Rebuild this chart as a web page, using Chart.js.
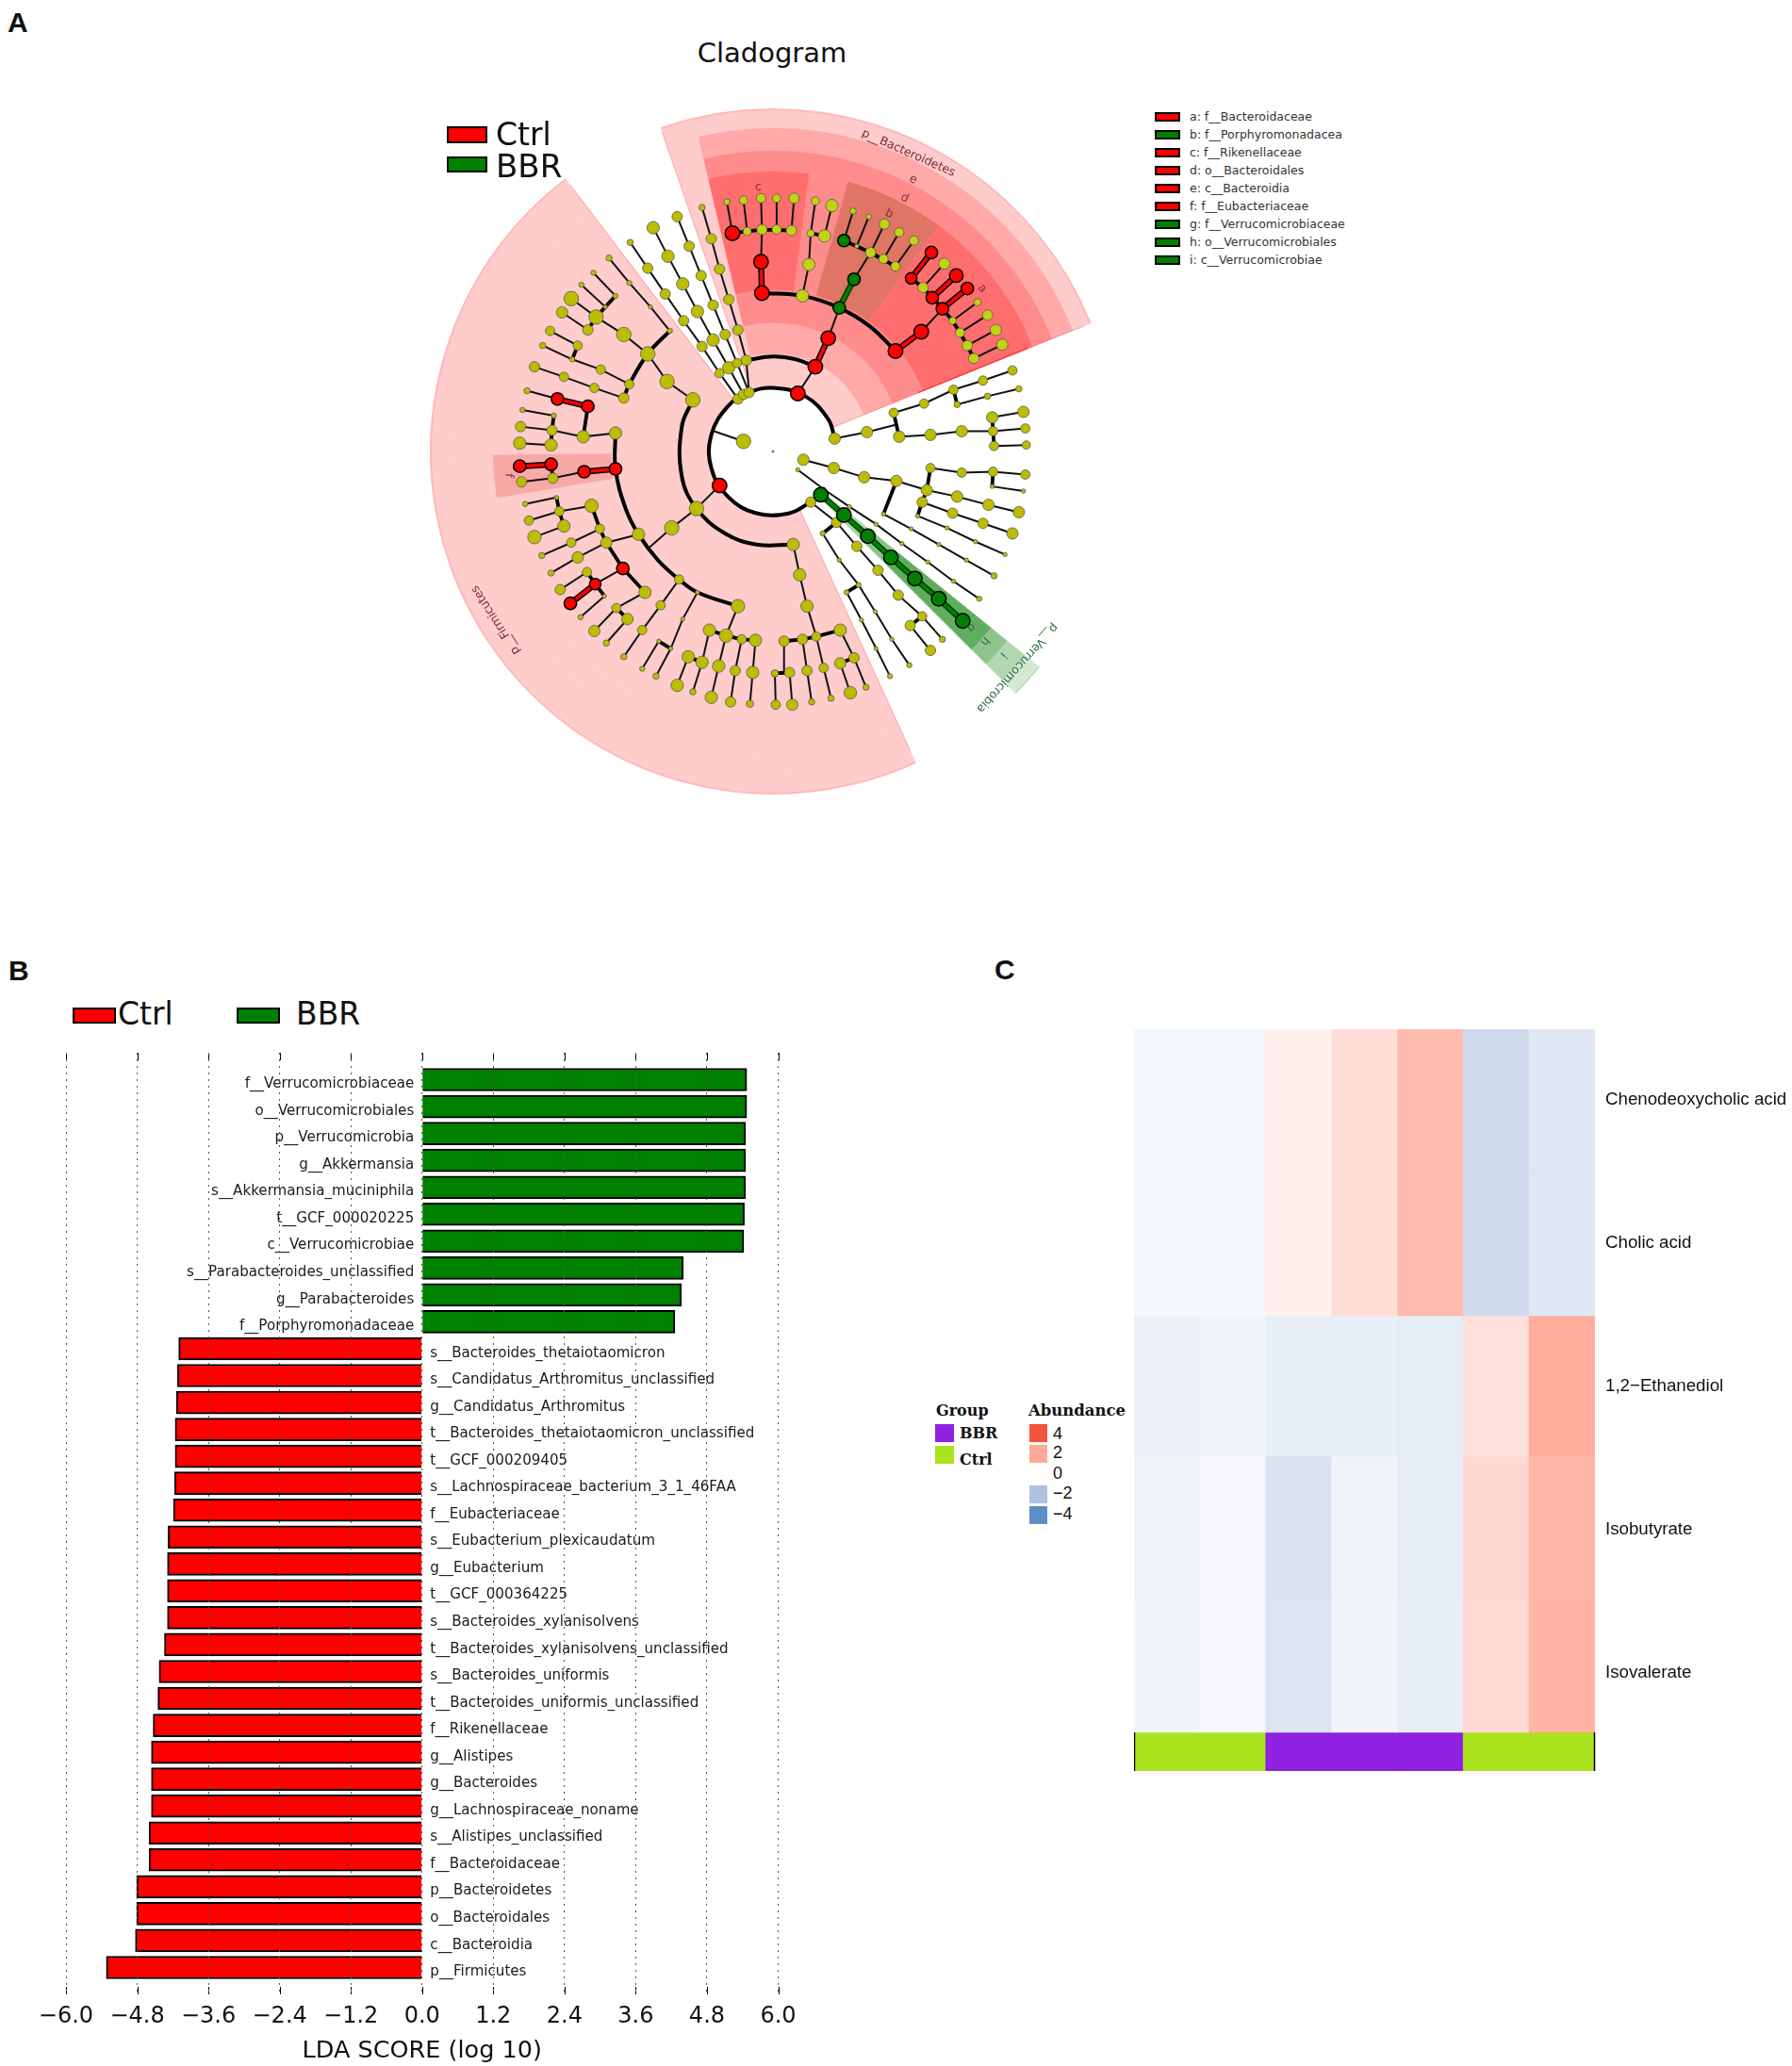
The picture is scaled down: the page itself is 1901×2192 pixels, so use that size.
<!DOCTYPE html>
<html>
<head>
<meta charset="utf-8">
<title>Cladogram, LDA score and heatmap</title>
<script src="https://cdn.jsdelivr.net/npm/chart.js@4"></script>
<style>
    html, body { margin: 0; padding: 0; background: #fff; }
    #page { position: relative; width: 1901px; height: 2192px; overflow: hidden; }
    canvas { position: absolute; }
    .txt { position: absolute; line-height: 1; white-space: nowrap; transform: translateY(-50%); color: #111; }
    .box { position: absolute; box-sizing: border-box; }
</style>
</head>
<body>
<div id="page">
    <canvas id="wedges" width="728" height="728" style="left:456px;top:115px"></canvas>
    <canvas id="tree" width="800" height="800" style="left:420px;top:79px"></canvas>
    <canvas id="bars" width="900" height="1092" style="left:0;top:1100px"></canvas>
    <canvas id="heat" width="698" height="787" style="left:1203px;top:1092px"></canvas>
</div>
<script>
// ---- panel B values ----
const barCategories = ['f__Verrucomicrobiaceae', 'o__Verrucomicrobiales', 'p__Verrucomicrobia', 'g__Akkermansia', 's__Akkermansia_muciniphila', 't__GCF_000020225', 'c__Verrucomicrobiae', 's__Parabacteroides_unclassified', 'g__Parabacteroides', 'f__Porphyromonadaceae',
    's__Bacteroides_thetaiotaomicron', 's__Candidatus_Arthromitus_unclassified', 'g__Candidatus_Arthromitus', 't__Bacteroides_thetaiotaomicron_unclassified', 't__GCF_000209405', 's__Lachnospiraceae_bacterium_3_1_46FAA', 'f__Eubacteriaceae', 's__Eubacterium_plexicaudatum', 'g__Eubacterium', 't__GCF_000364225', 's__Bacteroides_xylanisolvens', 't__Bacteroides_xylanisolvens_unclassified', 's__Bacteroides_uniformis', 't__Bacteroides_uniformis_unclassified', 'f__Rikenellaceae', 'g__Alistipes', 'g__Bacteroides', 'g__Lachnospiraceae_noname', 's__Alistipes_unclassified', 'f__Bacteroidaceae', 'p__Bacteroidetes', 'o__Bacteroidales', 'c__Bacteroidia', 'p__Firmicutes'];
const bbrScores = [5.47, 5.47, 5.45, 5.45, 5.45, 5.43, 5.42, 4.40, 4.37, 4.26];
const ctrlScores = [-4.10, -4.12, -4.14, -4.16, -4.16, -4.17, -4.19, -4.28, -4.29, -4.29, -4.29, -4.34, -4.43, -4.45, -4.53, -4.56, -4.56, -4.56, -4.60, -4.60, -4.81, -4.81, -4.83, -5.32];

// ---- panel C values ----
const heatRows = ['Chenodeoxycholic acid', 'Cholic acid', '1,2\u2212Ethanediol', 'Isobutyrate', 'Isovalerate'];
const chenoValues = [-0.25, -0.25, 0.33, 0.78, 1.6, -1.2, -0.8];
const cholicValues = [-0.25, -0.25, 0.33, 0.78, 1.6, -1.2, -0.8];
const ethanediolValues = [-0.5, -0.32, -0.55, -0.55, -0.6, 0.7, 1.9];
const isobutyrateValues = [-0.35, -0.22, -0.95, -0.37, -0.6, 0.95, 1.75];
const isovalerateValues = [-0.32, -0.22, -0.9, -0.35, -0.58, 0.9, 1.8];
const sampleGroups = ['Ctrl', 'Ctrl', 'BBR', 'BBR', 'BBR', 'Ctrl', 'Ctrl'];
const abundanceTicks = [-4, -2, 0, 2, 4];

// ---- panel A values: wedge spans in degrees clockwise from the top, ring by ring ----
const outerSpans = [68, 61, 5.9, 20.5, 167.3, 18.2, 19.1];
const midSpans = [68, 61, 5.9, 20.5, 167.3, 18.2, 5.8, 13.3];
const familySpans = [7.5, 8.1, 20.7, 31.7, 61, 5.9, 20.5, 105.1, 8.9, 53.3, 18.2, 5.8, 13.3];

// clade positions around the centre, [x, y] or [x, y, size]
const redNodes = [[-44,-237,7],[-13,-206,7],[-12,-172,7],[46,-92,7],[60,-123,7],[27,-63,7],[133,-109,7],[161,-130,7],[184,-155,6],[173,-167,6],[150,-188,5.5],[172,-216,6],[199,-191,6.5],[211,-177,6],[-58,37,7],[-201,-49,6],[-234,-57,6],[-171,19,6],[-205,22,6],[-241,14,6],[-275,16,6],[-163,127,6],[-193,144,5.5],[-220,165,6]];
const greenNodes = [[72,-156,6],[88,-187,6],[77,-229,6],[52,47,7],[77,69,7],[103,92,7],[128,115,7],[154,138,7],[180,160,7],[206,184,7]];
const limeNodes = [[-28,-239,4],[-12,-241,5],[4,-241,4.5],[20,-240,5],[-50,-271,3],[-32,-273,4],[-13,-275,4.5],[4,-275,4],[23,-275,5],[32,-169,6],[39,-203,6],[41,-237,3.5],[56,-234,6],[46,-272,4],[64,-267,6],[106,-216,5],[91,-223,2],[120,-209,4.5],[133,-201,4.5],[87,-261,3],[104,-255,2.5],[121,-247,5],[137,-238,4.5],[153,-229,4.5],[163,-178,5],[186,-204,5.5],[195,-142,3.5],[203,-129,4.5],[211,-115,5],[218,-101,5],[222,-162,3.5],[233,-148,5],[242,-132,5.5],[249,-116,5.5]];
const yellowNodes = [[-38,-57,5],[-32,-62,5],[-26,-64,5],[-58,-85,4.5],[-48,-91,6],[-39,-96,4.5],[-29,-99,5],
    [-77,-114,5],[-97,-142,5],[-117,-171,5],[-136,-199,5],[-155,-227,3],[-65,-121,6],[-82,-152,6],[-98,-182,6],[-114,-212,6],[-130,-243,6],[-52,-127,5],[-65,-159,5],[-78,-191,5],[-91,-223,5],[-104,-255,5],[-38,-132,5],[-48,-165,5],[-58,-198,5],[-67,-231,5],[-77,-265,3],
    [-32,-11,7],[-83,62,7],[-87,-56,7],[-115,-76,7],[-136,-106,7],[-156,-73,4.5],[-162,-58,5],[-112,-131,2.5],[-133,-157,2],[-156,-183,2.5],[-178,-210,3],[-162,-127,7],[-192,-146,7],[-171,-169,2.5],[-182,-157,2],[-195,-194,2.5],[-208,-181,2.5],[-219,-166,7],[-201,-132,5],[-229,-151,5.5],[-187,-89,4.5],[-218,-100,2.5],[-212,-115,4.5],[-242,-131,4.5],[-250,-115,3],[-194,-69,4.5],[-227,-81,4.5],[-259,-92,5],
    [-171,-20,6],[-206,-16,6],[-267,-66,3],[-240,-23,5],[-238,-39,2.5],[-272,-45,2.5],[-274,-27,5],[-241,-7,6],[-275,-9,6],[-239,29,5],[-273,33,5],
    [-146,90,6],[-110,83,7],[-181,99,5.5],[-197,59,6.5],[-188,84,4.5],[-139,153,6],[-232,65,4.5],[-235,50,2],[-227,81,6],[-269,57,2.5],[-265,75,4.5],[-259,93,6.5],[-219,99,4.5],[-251,113,3],[-212,115,5.5],[-241,132,3],[-202,131,4.5],[-231,150,5],[-183,157,2],[-209,180,2.5],[-170,170,4.5],[-194,195,5.5],[-158,182,5.5],[-181,208,3],
    [-102,139,4.5],[-122,167,4.5],[-142,194,4.5],[-162,223,3],[-82,153,2],[-98,182,2],[-111,214,2],[-124,206,2],[-142,236,2.5],[-127,244,3],
    [-38,168,6.5],[-51,200,6.5],[-69,194,6],[-34,204,4.5],[-19,205,6],[-92,223,6],[-77,229,6],[-104,254,6],[-87,261,3],[-59,233,6],[-67,267,6],[-41,238,5],[-46,272,5],[-22,240,6],[-25,274,3.5],
    [22,101,6],[29,134,6],[37,168,6],[47,201,4.5],[12,206,5],[32,204,5],[73,194,6],[2,241,3.5],[18,240,5],[3,275,4.5],[21,275,5.5],[37,238,5],[42,272,3],[55,235,4.5],[63,268,3],[88,224,5],[73,230,5.5],[84,262,6],[101,256,3],
    [67,-14,5.5],[102,-21,5.5],[137,-16,5.5],[131,-42,4.5],[164,-52,4.5],[196,-67,4.5],[228,-77,4.5],[260,-88,4.5],[200,-51,3],[233,-60,3],[267,-68,3],[171,-18,5.5],[205,-22,5.5],[239,-22,4.5],[238,-37,5.5],[240,-6,4.5],[272,-43,5.5],[274,-25,4.5],[275,-7,4],
    [33,9,5.5],[66,18,5.5],[99,28,5.5],[134,32,5.5],[167,42,5.5],[171,18,4.5],[205,23,4.5],[239,22,4.5],[238,38,2],[274,25,4.5],[272,43,2],[200,49,5.5],[234,58,5.5],[267,66,5.5],[162,55,5],[195,67,5],[228,78,5],[260,89,5.5],[157,70,2],[189,83,2],[220,98,2],[252,112,2],[120,68,2],[150,84,2],[180,101,2],[210,118,2],[240,135,3],
    [27,20,2],[55,41,2],[83,60,2],[112,79,2],[140,100,2],[168,120,2],[196,141,2],[224,160,2.5],
    [41,55,5],[69,77,5],[91,103,5],[114,129,5],[136,156,5],[162,179,4.5],[149,189,5],[184,204,3],[171,216,5],[54,89,2.5],[72,118,2],[93,145,2.5],[80,153,2.5],[111,174,2],[129,204,2],[148,232,2.5],[96,183,2],[112,214,2],[127,244,2.5],
    [0,0,1]];

const thinBranches = [
    [[-13,-206],[-12,-241]],[[-44,-237],[-50,-271]],[[-28,-239],[-32,-273]],[[-12,-241],[-13,-275]],[[4,-241],[4,-275]],[[20,-240],[23,-275]],
    [[32,-169],[39,-203],[41,-237],[46,-272]],[[56,-234],[64,-267]],
    [[88,-187],[106,-216]],[[77,-229],[87,-261]],[[91,-223],[104,-255]],[[106,-216],[121,-247]],[[120,-209],[137,-238]],[[133,-201],[153,-229]],
    [[72,-156],[60,-123]],[[27,-63],[46,-92]],[[161,-130],[184,-155]],
    [[163,-178],[186,-204]],[[195,-142],[222,-162]],[[203,-129],[233,-148]],[[211,-115],[242,-132]],[[218,-101],[249,-116]],
    [[-38,-57],[-58,-85],[-77,-114],[-97,-142],[-117,-171],[-136,-199],[-155,-227]],
    [[-32,-62],[-48,-91],[-65,-121],[-82,-152],[-98,-182],[-114,-212],[-130,-243]],
    [[-26,-64],[-39,-96],[-52,-127],[-65,-159],[-78,-191],[-91,-223],[-104,-255]],
    [[-26,-64],[-29,-99],[-38,-132],[-48,-165],[-58,-198],[-67,-231],[-77,-265]],
    [[-64,-22],[-32,-11]],[[-58,37],[-83,62],[-110,83],[-135,105]],
    [[-87,-56],[-115,-76],[-136,-106],[-162,-127],[-192,-146],[-219,-166]],
    [[-112,-131],[-133,-157],[-156,-183],[-178,-210]],[[-171,-169],[-195,-194]],[[-182,-157],[-208,-181]],[[-201,-132],[-229,-151]],
    [[-156,-73],[-187,-89],[-218,-100],[-250,-115]],[[-212,-115],[-242,-131]],[[-162,-58],[-194,-69],[-227,-81],[-259,-92]],
    [[-171,-20],[-206,-16],[-240,-23],[-274,-27]],[[-234,-57],[-267,-66]],[[-238,-39],[-272,-45]],[[-241,-7],[-275,-9]],[[-205,22],[-239,29],[-273,33]],
    [[-146,90],[-181,99],[-212,115],[-241,132]],[[-197,59],[-232,65],[-265,75]],[[-235,50],[-269,57]],[[-227,81],[-259,93]],[[-188,84],[-219,99],[-251,113]],
    [[-163,127],[-193,144]],[[-202,131],[-231,150]],[[-183,157],[-209,180]],[[-139,153],[-170,170],[-194,195]],[[-158,182],[-181,208]],
    [[-102,139],[-122,167],[-142,194],[-162,223]],[[-82,153],[-98,182],[-111,214],[-127,244]],[[-124,206],[-142,236]],
    [[-38,168],[-51,200],[-59,233],[-67,267]],[[-69,194],[-77,229],[-87,261]],[[-92,223],[-104,254]],[[-34,204],[-41,238],[-46,272]],[[-19,205],[-22,240],[-25,274]],
    [[22,101],[29,134],[37,168],[47,201]],[[12,206],[12,240]],[[2,241],[3,275]],[[18,240],[21,275]],[[32,204],[37,238],[42,272]],[[47,201],[55,235],[63,268]],[[73,194],[88,224],[101,256]],[[73,230],[84,262]],
    [[67,-14],[102,-21],[133,-29]],[[137,-16],[171,-18],[205,-22],[239,-22]],[[131,-42],[164,-52],[196,-67],[228,-77],[260,-88]],[[200,-51],[233,-60],[267,-68]],[[238,-37],[272,-43]],[[239,-22],[274,-25]],[[240,-6],[275,-7]],
    [[33,9],[66,18],[99,28],[134,32],[167,42],[200,49],[234,58],[267,66]],[[171,18],[205,23],[239,22],[274,25]],[[238,38],[272,43]],
    [[162,55],[195,67],[228,78],[260,89]],[[157,70],[189,83],[220,98],[252,112]],[[120,68],[150,84],[180,101],[210,118],[240,135]],
    [[27,20],[55,41],[83,60],[112,79],[140,100],[168,120],[196,141],[224,160]],
    [[41,55],[69,77],[91,103],[114,129],[136,156],[162,179],[184,204]],[[149,189],[171,216]],
    [[54,89],[72,118],[93,145],[111,174],[129,204],[148,232]],[[80,153],[96,183],[112,214],[127,244]]
];
const thickBranches = [
    [[-44,-237],[-12,-241],[20,-240]],[[41,-237],[56,-234]],[[77,-229],[106,-216],[133,-201]],
    [[218,-101],[211,-115],[203,-129],[195,-142],[184,-155],[173,-167],[163,-178],[150,-188]],
    [[-192,-146],[-171,-169]],[[-192,-146],[-201,-132]],[[-218,-100],[-212,-115]],[[-206,-16],[-201,-49]],[[-238,-39],[-240,-23],[-241,-7]],[[-239,29],[-241,14]],
    [[-197,59],[-188,84],[-181,99],[-163,127],[-139,153]],[[-235,50],[-232,65],[-227,81]],[[-202,131],[-193,144],[-183,157]],[[-170,170],[-158,182]],[[-111,214],[-124,206]],
    [[-69,194],[-51,200],[-34,204],[-19,205]],[[12,206],[32,204],[47,201],[73,194]],[[2,241],[18,240]],[[-92,223],[-77,229]],[[73,230],[88,224]],
    [[131,-42],[137,-16]],[[196,-67],[200,-51]],[[238,-37],[239,-22],[240,-6]],
    [[171,18],[167,42],[162,55],[157,70]],[[239,22],[238,38]],[[134,32],[120,68]],[[162,179],[149,189]],[[69,77],[54,89]],[[93,145],[80,153]]
];
const ringArcs = [
    [[41,55],[18,67],[-18,67],[-49,49],[-67,18],[-67,-18],[-49,-49],[-26,-64],[0,-69],[35,-60],[60,-35],[67,-14]],
    [[-87,-56],[-99,-27],[-99,27],[-83,62],[-52,89],[-18,101],[22,101]],
    [[-29,-99],[0,-103],[25,-100],[46,-92]],
    [[-171,-20],[-171,19],[-160,62],[-146,90],[-125,118],[-102,139],[-82,153],[-38,168]],
    [[-12,-172],[32,-169],[72,-156],[105,-136],[133,-109]],
    [[-162,-58],[-156,-73],[-136,-106],[-112,-131]]
];
const redBranches = [[[-12,-172],[-13,-206]],[[46,-92],[60,-123]],[[133,-109],[161,-130]],[[150,-188],[172,-216]],[[173,-167],[199,-191]],[[184,-155],[211,-177]],[[-201,-49],[-234,-57]],[[-171,19],[-205,22]],[[-241,14],[-275,16]],[[-193,144],[-220,165]]];
const greenBranches = [[[72,-156],[88,-187]],[[52,47],[77,69],[103,92],[128,115],[154,138],[180,160],[206,184]]];
// straight sides of the shaded wedges
const brightEdges = [[[158,-64],[276,-112]]];
const softEdges = [[[64,-26],[158,-64]],[[276,-112],[337,-136]],[[-220,-289],[-42,-55]],[[149,325],[29,63]],[[-120,-346],[-23,-65]]];

const cladeLabels = [
    ['p__Bacteroidetes', 147, -324, 24, '#7a2a35'], ['e', 152, -295, 25, '#8a3030'], ['d', 143, -275, 25, '#8a3030'], ['b', 126, -258, 25, '#8a3030'],
    ['c', -16, -287, 0, '#8a3030'], ['a', 227, -177, 45, '#8a3030'], ['f', -287, 26, 95, '#8a3030'], ['p__Firmicutes', -301, 183, -122.7, '#7a2a35'],
    ['p__Verrucomicrobia', 265, 235, 132, '#2f6b3f'], ['i', 250, 221, 132, '#2f6b3f'], ['h', 230, 206, 132, '#2f6b3f'], ['g', 215, 191, 132, '#2f6b3f']
];

// ---- shared setup ----
const page = document.getElementById('page');
Chart.defaults.font.family = '"DejaVu Sans"';

function addText(text, x, y, size, extra) {
    const el = document.createElement('div');
    el.className = 'txt';
    el.textContent = text;
    el.style.left = x + 'px';
    el.style.top = y + 'px';
    el.style.fontSize = size + 'px';
    Object.assign(el.style, extra || {});
    page.appendChild(el);
}
function addBox(x, y, w, h, colour, border) {
    const el = document.createElement('div');
    el.className = 'box';
    el.style.cssText = `left:${x}px;top:${y}px;width:${w}px;height:${h}px;background:${colour};` + (border ? 'border:2px solid #000;' : '');
    page.appendChild(el);
}
const baseOptions = {
    responsive: false,
    animation: false,
    devicePixelRatio: 1,
    events: [],
    plugins: { legend: { display: false }, tooltip: { enabled: false } }
};

// ---- panel A: wedges ----
const none = 'rgba(0,0,0,0)';
const pink = '#FFCCCC', rim = '#FFB6B6', classShade = '#FFA9A9', orderShade = '#FF8C8C', familyShade = '#FF6E6E', porphyro = '#DF7565', eubact = '#F9A8A8';
const ring = (weight, spans, colours) => ({ weight: weight, data: spans, backgroundColor: colours, borderColor: colours, borderWidth: 0.8 });
new Chart(document.getElementById('wedges'), {
    type: 'doughnut',
    data: {
        datasets: [
            ring(1.2, outerSpans, [rim, none, '#BBDDBB', none, rim, none, rim]),
            ring(18.8, outerSpans, [pink, none, '#D4E9D4', none, pink, none, pink]),
            ring(24, midSpans, [classShade, none, '#B2D8B2', none, pink, none, pink, classShade]),
            ring(22, midSpans, [orderShade, none, '#8CC48C', none, pink, none, pink, orderShade]),
            ring(126, familySpans, [familyShade, orderShade, porphyro, familyShade, none, '#5FAE5F', none, pink, eubact, pink, none, pink, familyShade]),
            ring(35, midSpans, [orderShade, none, '#88C488', none, pink, none, pink, orderShade]),
            ring(33, midSpans, [classShade, none, '#A8D4A8', none, pink, none, pink, classShade]),
            ring(35, outerSpans, [pink, none, '#C8E4C8', none, pink, none, pink])
        ]
    },
    options: { ...baseOptions, cutout: 69, layout: { padding: 0 } }
});

// ---- panel A: tree ----
const toPoints = nodes => nodes.map(n => ({ x: n[0], y: n[1] }));
const joinChains = chains => chains.flatMap(c => [...toPoints(c), { x: null, y: null }]);
const nodeSet = (nodes, fill, edge, width) => ({
    data: toPoints(nodes), pointRadius: nodes.map(n => n[2] * 1.1), pointBackgroundColor: fill,
    pointBorderColor: edge, pointBorderWidth: width, showLine: false
});
const lineSet = (chains, colour, width, tension) => ({
    data: joinChains(chains), borderColor: colour, borderWidth: width, pointRadius: 0,
    showLine: true, spanGaps: false, tension: tension || 0, borderCapStyle: 'round'
});
const cladeText = {
    id: 'cladeText',
    afterDatasetsDraw(chart) {
        const ctx = chart.ctx;
        cladeLabels.forEach(l => {
            ctx.save();
            ctx.translate(chart.scales.x.getPixelForValue(l[1]), chart.scales.y.getPixelForValue(l[2]));
            ctx.rotate(l[3] * Math.PI / 180);
            ctx.font = '12.5px "DejaVu Sans"';
            ctx.fillStyle = l[4];
            ctx.textAlign = 'center';
            ctx.textBaseline = 'middle';
            ctx.fillText(l[0], 0, 0);
            ctx.restore();
        });
    }
};
new Chart(document.getElementById('tree'), {
    type: 'scatter',
    data: {
        datasets: [
            nodeSet(redNodes, '#FF0000', '#000', 1.5),
            nodeSet(greenNodes, '#008000', '#000', 1.5),
            nodeSet(limeNodes, '#C3D211', '#555', 0.8),
            nodeSet(yellowNodes, '#BDBD00', '#555', 0.8),
            lineSet(redBranches, '#FF0000', 3.5),
            lineSet(greenBranches, '#008000', 3.5),
            lineSet(redBranches, '#000', 6.5),
            lineSet(greenBranches, '#004000', 6.5),
            lineSet(ringArcs, '#000', 4, 0.4),
            lineSet(thickBranches, '#000', 3.8),
            lineSet(thinBranches, '#111', 2),
            lineSet(brightEdges, 'rgba(255,30,30,0.75)', 1.4),
            lineSet(softEdges, 'rgba(255,110,110,0.4)', 1.2)
        ]
    },
    options: {
        ...baseOptions,
        layout: { padding: 0 },
        scales: {
            x: { display: false, min: -400, max: 400 },
            y: { display: false, min: -400, max: 400, reverse: true }
        }
    },
    plugins: [cladeText]
});

addText('Cladogram', 819, 56, 29, { transform: 'translate(-50%,-50%)', fontFamily: '"DejaVu Sans"' });
addBox(474, 134, 43, 18, '#FF0000', true);
addBox(474, 166, 43, 17, '#008000', true);
addText('Ctrl', 526, 142, 33, { fontFamily: '"DejaVu Sans"' });
addText('BBR', 526, 176, 34, { fontFamily: '"DejaVu Sans"' });

const cladeKey = [['a: f__Bacteroidaceae', '#FF0000'], ['b: f__Porphyromonadacea', '#008000'], ['c: f__Rikenellaceae', '#FF0000'], ['d: o__Bacteroidales', '#FF0000'], ['e: c__Bacteroidia', '#FF0000'], ['f: f__Eubacteriaceae', '#FF0000'], ['g: f__Verrucomicrobiaceae', '#008000'], ['h: o__Verrucomicrobiales', '#008000'], ['i: c__Verrucomicrobiae', '#008000']];
cladeKey.forEach((k, i) => {
    const y = 124 + i * 19;
    addBox(1225, y - 5, 27, 10, k[1], true);
    addText(k[0], 1262, y, 12.5, { fontFamily: '"DejaVu Sans"', color: '#333', width: '166px', overflow: 'hidden', lineHeight: '18px' });
});

// ---- panel B: LDA bars ----
const barLabels = ['', ...barCategories, ''];
const barValues = [null, ...bbrScores, ...ctrlScores, null];
const ldaMarks = {
    id: 'ldaMarks',
    afterDatasetsDraw(chart) {
        const ctx = chart.ctx, xs = chart.scales.x, ys = chart.scales.y, zero = xs.getPixelForValue(0);
        ctx.save();
        ctx.strokeStyle = '#000';
        ctx.lineWidth = 1;
        xs.ticks.forEach(t => {
            const px = Math.round(xs.getPixelForValue(t.value)) + 0.5;
            ctx.beginPath();
            ctx.moveTo(px, ys.top); ctx.lineTo(px, ys.top + 8);
            ctx.moveTo(px, ys.bottom - 8); ctx.lineTo(px, ys.bottom);
            ctx.stroke();
        });
        ctx.font = '15.1px "DejaVu Sans"';
        ctx.fillStyle = '#1a1a1a';
        ctx.textBaseline = 'middle';
        barCategories.forEach((name, i) => {
            const y = ys.getPixelForValue(i + 1) + 4.7;
            const isBbr = barValues[i + 1] > 0;
            ctx.textAlign = isBbr ? 'right' : 'left';
            ctx.fillText(name, zero + (isBbr ? -8.5 : 8.5), y);
        });
        ctx.restore();
    }
};
new Chart(document.getElementById('bars'), {
    type: 'bar',
    data: {
        labels: barLabels,
        datasets: [{
            data: barValues,
            backgroundColor: barValues.map(v => v > 0 ? '#008000' : '#FF0000'),
            borderColor: '#000',
            borderWidth: 2,
            barThickness: 24
        }]
    },
    options: {
        ...baseOptions,
        indexAxis: 'y',
        layout: { padding: { left: 70, right: 74.5, top: 17, bottom: 0 } },
        scales: {
            x: {
                min: -6, max: 6,
                afterFit(scale) { scale.height = 76; },
                border: { display: false, dash: [2, 5] },
                grid: { color: '#555', lineWidth: 1, z: 1, tickLength: 0, drawTicks: false },
                ticks: {
                    stepSize: 1.2, autoSkip: false, maxRotation: 0, padding: 9, color: '#111',
                    font: { size: 24 },
                    callback: v => (v < -0.01 ? '\u2212' : '') + Math.abs(v).toFixed(1)
                },
                title: { display: true, text: 'LDA SCORE (log 10)', color: '#111', font: { size: 25.5 }, padding: { top: 0, bottom: 0 } }
            },
            y: { display: false, offset: false, grid: { display: false } }
        }
    },
    plugins: [ldaMarks]
});

addBox(77, 1069, 46, 17, '#FF0000', true);
addText('Ctrl', 125, 1075, 33, { fontFamily: '"DejaVu Sans"' });
addBox(251, 1069, 46, 17, '#008000', true);
addText('BBR', 314, 1075, 33, { fontFamily: '"DejaVu Sans"' });

// ---- panel C: heatmap as stacked bars, one stack per sample ----
const colourStops = [[-4, [93, 143, 198]], [-2, [175, 195, 224]], [0, [255, 255, 255]], [2, [255, 170, 153]], [4, [244, 83, 59]]];
function abundanceColour(v) {
    for (let i = 1; i < colourStops.length; i++) {
        if (v <= colourStops[i][0]) {
            const a = colourStops[i - 1], b = colourStops[i], t = (v - a[0]) / (b[0] - a[0]);
            return 'rgb(' + a[1].map((c, k) => Math.round(c + (b[1][k] - c) * t)).join(',') + ')';
        }
    }
    return 'rgb(244,83,59)';
}
const groupColours = { BBR: '#8F22E2', Ctrl: '#ABE31F' };
const rowSpans = [152, 152, 149, 152, 141];
const stripSpan = 41;
const labelPitch = 152;
const heatValues = [chenoValues, cholicValues, ethanediolValues, isobutyrateValues, isovalerateValues];
const heatText = {
    id: 'heatText',
    afterDatasetsDraw(chart) {
        const ctx = chart.ctx, area = chart.chartArea, ys = chart.scales.y;
        ctx.save();
        ctx.font = '18.7px "Liberation Sans"';
        ctx.fillStyle = '#111';
        ctx.textBaseline = 'middle';
        ctx.textAlign = 'left';
        heatRows.forEach((name, i) => {
            ctx.fillText(name, area.right + 11, ys.getPixelForValue(74.5 + labelPitch * i));
        });
        const stripTop = rowSpans.reduce((a, b) => a + b, 0);
        ctx.strokeStyle = '#000';
        ctx.lineWidth = 1.5;
        [area.left + 0.5, area.right - 0.5].forEach(px => {
            ctx.beginPath();
            ctx.moveTo(px, ys.getPixelForValue(stripTop));
            ctx.lineTo(px, area.bottom);
            ctx.stroke();
        });
        ctx.restore();
    }
};
new Chart(document.getElementById('heat'), {
    type: 'bar',
    data: {
        labels: sampleGroups.map((g, i) => g + (i + 1)),
        datasets: [
            ...heatValues.map((vals, r) => ({
                data: vals.map(() => rowSpans[r]),
                backgroundColor: vals.map(abundanceColour),
                borderWidth: 0, barPercentage: 1, categoryPercentage: 1
            })),
            {
                data: sampleGroups.map(() => stripSpan),
                backgroundColor: sampleGroups.map(g => groupColours[g]),
                borderWidth: 0, barPercentage: 1, categoryPercentage: 1
            }
        ]
    },
    options: {
        ...baseOptions,
        layout: { padding: { left: 0, right: 209, top: 0, bottom: 0 } },
        scales: {
            x: { display: false, stacked: true },
            y: { display: false, stacked: true, min: 0, max: 787, reverse: true }
        }
    },
    plugins: [heatText]
});

const serifBold = { fontFamily: '"DejaVu Serif"', fontWeight: 'bold' };
addText('Group', 993, 1497, 16, serifBold);
addBox(992, 1511, 20, 19, groupColours.BBR);
addBox(992, 1534, 20, 19, groupColours.Ctrl);
addText('BBR', 1018, 1521, 16, serifBold);
addText('Ctrl', 1018, 1549, 16, serifBold);
addText('Abundance', 1091, 1497, 16.5, serifBold);
const scaleTops = [1597.5, 1576, null, 1533, 1511];
abundanceTicks.forEach((t, i) => {
    if (scaleTops[i] !== null) addBox(1092, scaleTops[i], 19, 19, abundanceColour(t));
});
const scaleTextY = [1606, 1584, 1562.5, 1541, 1521];
abundanceTicks.forEach((t, i) => {
    addText((t < 0 ? '\u2212' : '') + Math.abs(t), 1117, scaleTextY[i], 18, { fontFamily: '"Liberation Sans"' });
});

const panelFont = { fontFamily: '"Liberation Sans"', fontWeight: 'bold' };
addText('A', 8, 24, 30, panelFont);
addText('B', 9, 1030, 30, panelFont);
addText('C', 1055, 1029, 30, panelFont);
</script>
</body>
</html>
